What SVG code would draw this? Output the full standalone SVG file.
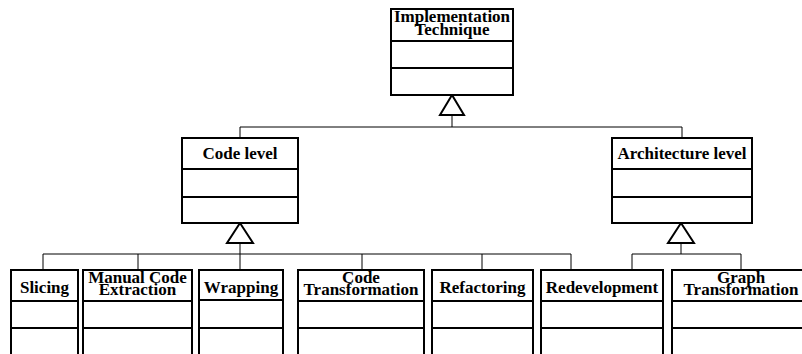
<svg xmlns="http://www.w3.org/2000/svg" width="802" height="354" viewBox="0 0 802 354">
<style>
.box{fill:#fff;stroke:#000;stroke-width:2}
.div{stroke:#000;stroke-width:2}
.lbl{font-family:"Liberation Serif","Times New Roman",serif;font-weight:bold;font-size:17px;text-anchor:middle;fill:#000}
.con{fill:none;stroke:#000;stroke-width:1}
.tri{fill:#fff;stroke:#000;stroke-width:2}
</style>
<rect width="802" height="354" fill="#fff"/>
<g id="connectors">
<polyline class="con" points="452,115 452,127"/>
<polyline class="con" points="240,138 240,127 682,127 682,138"/>
<polyline class="con" points="240,243 240,270"/>
<polyline class="con" points="43,270 43,254 571,254 571,270"/>
<line class="con" x1="138" y1="254" x2="138" y2="270"/>
<line class="con" x1="362" y1="254" x2="362" y2="270"/>
<line class="con" x1="482" y1="254" x2="482" y2="270"/>
<polyline class="con" points="681,243 681,254"/>
<polyline class="con" points="632,270 632,254 741,254 741,270"/>
<polygon class="tri" points="452,95 440,115 464,115"/>
<polygon class="tri" points="240,223 227,243 253,243"/>
<polygon class="tri" points="681,223 668,243 694,243"/>
</g>
<g id="implementation-technique">
<rect class="box" x="391" y="9" width="122" height="86"/>
<line class="div" x1="391" y1="41" x2="513" y2="41"/>
<line class="div" x1="391" y1="68" x2="513" y2="68"/>
<text class="lbl" x="452" y="22">Implementation</text>
<text class="lbl" x="452" y="35">Technique</text>
</g>
<g id="code-level">
<rect class="box" x="182" y="138" width="116" height="85"/>
<line class="div" x1="182" y1="169" x2="298" y2="169"/>
<line class="div" x1="182" y1="197" x2="298" y2="197"/>
<text class="lbl" x="240" y="159">Code level</text>
</g>
<g id="architecture-level">
<rect class="box" x="612" y="138" width="140" height="85"/>
<line class="div" x1="612" y1="169" x2="752" y2="169"/>
<line class="div" x1="612" y1="197" x2="752" y2="197"/>
<text class="lbl" x="682" y="159">Architecture level</text>
</g>
<g id="slicing">
<rect class="box" x="11" y="270" width="67" height="100"/>
<line class="div" x1="11" y1="301" x2="78" y2="301"/>
<line class="div" x1="11" y1="328" x2="78" y2="328"/>
<text class="lbl" x="44.5" y="293">Slicing</text>
</g>
<g id="manual-code-extraction">
<rect class="box" x="83" y="270" width="109" height="100"/>
<line class="div" x1="83" y1="301" x2="192" y2="301"/>
<line class="div" x1="83" y1="328" x2="192" y2="328"/>
<text class="lbl" x="137.5" y="283">Manual Code</text>
<text class="lbl" x="137.5" y="295">Extraction</text>
</g>
<g id="wrapping">
<rect class="box" x="199" y="270" width="84" height="100"/>
<line class="div" x1="199" y1="300" x2="283" y2="300"/>
<line class="div" x1="199" y1="328" x2="283" y2="328"/>
<text class="lbl" x="241" y="293">Wrapping</text>
</g>
<g id="code-transformation">
<rect class="box" x="298" y="270" width="126" height="100"/>
<line class="div" x1="298" y1="301" x2="424" y2="301"/>
<line class="div" x1="298" y1="328" x2="424" y2="328"/>
<text class="lbl" x="361" y="283">Code</text>
<text class="lbl" x="361" y="295">Transformation</text>
</g>
<g id="refactoring">
<rect class="box" x="432" y="270" width="101" height="100"/>
<line class="div" x1="432" y1="301" x2="533" y2="301"/>
<line class="div" x1="432" y1="328" x2="533" y2="328"/>
<text class="lbl" x="482.5" y="293">Refactoring</text>
</g>
<g id="redevelopment">
<rect class="box" x="541" y="270" width="122" height="100"/>
<line class="div" x1="541" y1="301" x2="663" y2="301"/>
<line class="div" x1="541" y1="328" x2="663" y2="328"/>
<text class="lbl" x="602" y="293">Redevelopment</text>
</g>
<g id="graph-transformation">
<rect class="box" x="672" y="270" width="140" height="100"/>
<line class="div" x1="672" y1="301" x2="812" y2="301"/>
<line class="div" x1="672" y1="328" x2="812" y2="328"/>
<text class="lbl" x="741" y="283">Graph</text>
<text class="lbl" x="741" y="295">Transformation</text>
</g>
</svg>
